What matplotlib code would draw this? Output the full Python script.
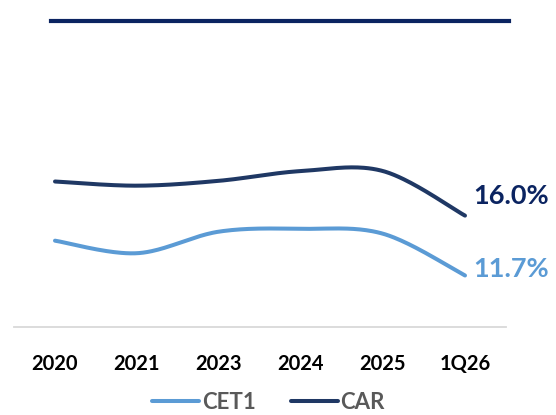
import numpy as np
import matplotlib
matplotlib.use("Agg")
import matplotlib.pyplot as plt
from matplotlib.lines import Line2D

categories = ["2020", "2021", "2023", "2024", "2025", "1Q26"]
cet1 = [14.2, 13.3, 14.85, 15.05, 14.7, 11.7]
car = [18.45, 18.15, 18.5, 19.2, 19.2, 16.0]
last_labels = ["11.7%", "16.0%"]

C_CET1 = "#5B9BD5"
C_CAR = "#1F3864"
C_CAR_LBL = "#0B2461"
C_TOP = "#0B2461"

plt.rcParams['font.family'] = ['Lato', 'DejaVu Sans']


def smooth(xs, ys, n=40):
    xs = np.asarray(xs, float)
    ys = np.asarray(ys, float)
    P = np.column_stack([xs, ys])
    m = len(P)
    out = []
    for i in range(m - 1):
        p0 = P[i]
        p3 = P[i + 1]
        pm = P[i - 1] if i > 0 else P[i]
        pp = P[i + 2] if i + 2 < m else P[i + 1]
        c1 = p0 + (p3 - pm) / 6.0
        c2 = p3 - (pp - p0) / 6.0
        t = np.linspace(0, 1, n)[:, None]
        seg = ((1 - t) ** 3) * p0 + 3 * ((1 - t) ** 2) * t * c1 + 3 * (1 - t) * t ** 2 * c2 + t ** 3 * p3
        if i > 0:
            seg = seg[1:]
        out.append(seg)
    out = np.vstack(out)
    return out[:, 0], out[:, 1]


W, H = 556, 415
fig = plt.figure(figsize=(W / 100, H / 100), dpi=100)
ax = fig.add_axes([14 / W, (H - 327) / H, (506 - 14) / W, (327 - 20.7) / H])

x = np.arange(len(categories))
lw = 2.9
sx, sy = smooth(x, cet1)
ax.plot(sx, sy, color=C_CET1, lw=lw, solid_capstyle='round')
sx, sy = smooth(x, car)
ax.plot(sx, sy, color=C_CAR, lw=lw, solid_capstyle='round')

ax.set_xlim(-0.5, len(categories) - 0.5)
ax.set_ylim(8, 30)
ax.set_xticks(x)
ax.set_xticklabels(categories, fontsize=14.5, fontweight='bold', color='black')
ax.tick_params(axis='x', length=0, pad=19.5)
ax.set_yticks([])
for s in ['top', 'left', 'right']:
    ax.spines[s].set_visible(False)
ax.spines['bottom'].set_color('#D9D9D9')
ax.spines['bottom'].set_linewidth(1.3)

# end labels
ax.annotate(last_labels[1], xy=(x[-1], car[-1]), xytext=(6, 14), textcoords='offset points',
            ha='left', va='center', fontsize=19.5, fontweight='bold', color=C_CAR_LBL)
ax.annotate(last_labels[0], xy=(x[-1], cet1[-1]), xytext=(6, 5), textcoords='offset points',
            ha='left', va='center', fontsize=19.5, fontweight='bold', color=C_CET1)

# top decorative line
fig.add_artist(Line2D([51 / W, 509 / W], [(H - 20.7) / H] * 2, color=C_TOP, lw=3.0,
                      transform=fig.transFigure))

handles = [Line2D([], [], color=C_CET1, lw=lw, solid_capstyle='round'),
           Line2D([], [], color=C_CAR, lw=lw, solid_capstyle='round')]
leg = fig.legend(handles, ["CET1", "CAR"], loc='center', bbox_to_anchor=(268.5 / W, (H - 402) / H),
                 ncol=2, frameon=False, handlelength=2.1, handletextpad=0.12, columnspacing=1.6,
                 prop={'size': 16, 'weight': 'bold'})
for t in leg.get_texts():
    t.set_color('#595959')

fig.savefig("out.png", dpi=100)
